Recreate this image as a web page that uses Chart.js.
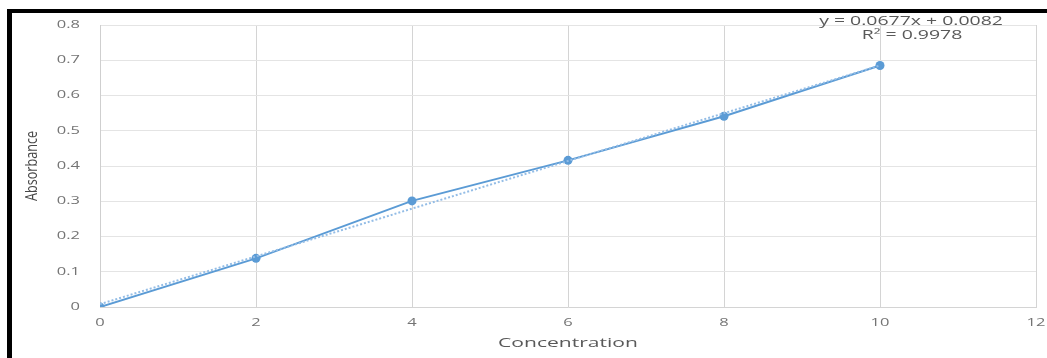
<!DOCTYPE html>
<html>
<head>
<meta charset="utf-8">
<script src="https://cdn.jsdelivr.net/npm/chart.js@4/dist/chart.umd.min.js"></script>
<style>
  html, body { margin: 0; padding: 0; background: #fff; overflow: hidden; }
  #wrap { position: relative; width: 1047px; height: 358px; }
</style>
</head>
<body>
<div id="wrap"><canvas id="c" width="1047" height="358"></canvas></div>
<script>
// Calibration data: absorbance measured at each concentration
const concentration = [0, 2, 4, 6, 8, 10];
const absorbance = [0, 0.138, 0.301, 0.416, 0.541, 0.685];

// Linear trendline as reported
const trendSlope = 0.0677;
const trendIntercept = 0.0082;
const rSquared = 0.9978;

// Axis ticks and their labels
const xTickValues = [0, 2, 4, 6, 8, 10, 12];
const xTickLabels = ['0', '2', '4', '6', '8', '10', '12'];
const yTickValues = [0, 0.1, 0.2, 0.3, 0.4, 0.5, 0.6, 0.7, 0.8];
const yTickLabels = ['0', '0.1', '0.2', '0.3', '0.4', '0.5', '0.6', '0.7', '0.8'];

const xTitle = 'Concentration';
const yTitle = 'Absorbance';

const points = concentration.map((c, i) => ({ x: c, y: absorbance[i] }));
const xFirst = concentration[0];
const xLast = concentration[concentration.length - 1];
const trendPoints = [
  { x: xFirst, y: trendSlope * xFirst + trendIntercept },
  { x: xLast, y: trendSlope * xLast + trendIntercept }
];

const TEXT_FONT = '"Open Sans", "Liberation Sans", sans-serif';

function drawWide(ctx, text, x, y, size, color, sx, align) {
  ctx.save();
  ctx.translate(x, y);
  ctx.scale(sx, 1);
  ctx.font = size + 'px ' + TEXT_FONT;
  ctx.fillStyle = color;
  ctx.textAlign = align;
  ctx.textBaseline = 'middle';
  ctx.fillText(text, 0, 0);
  ctx.restore();
}

// Frame bars along the top and left edges
const framePlugin = {
  id: 'frame',
  beforeDraw(chart) {
    const ctx = chart.ctx;
    ctx.save();
    ctx.fillStyle = '#ffffff';
    ctx.fillRect(0, 0, chart.width, chart.height);
    ctx.fillStyle = '#000000';
    ctx.fillRect(7, 9, chart.width - 7, 4);
    ctx.fillRect(7, 9, 5, chart.height - 9);
    ctx.restore();
  }
};

// Tick labels, axis titles and the trendline equation
const textPlugin = {
  id: 'labels',
  afterDraw(chart) {
    const ctx = chart.ctx;
    const xs = chart.scales.x;
    const ys = chart.scales.y;
    const area = chart.chartArea;

    yTickValues.forEach((v, i) => {
      drawWide(ctx, yTickLabels[i], area.left - 20, ys.getPixelForValue(v), 10, '#747474', 1.65, 'right');
    });
    xTickValues.forEach((v, i) => {
      drawWide(ctx, xTickLabels[i], xs.getPixelForValue(v), area.bottom + 16, 10, '#747474', 1.65, 'center');
    });

    drawWide(ctx, xTitle, (area.left + area.right) / 2, area.bottom + 36, 13, '#595959', 1.62, 'center');

    ctx.save();
    ctx.translate(32, (area.top + area.bottom) / 2);
    ctx.rotate(-Math.PI / 2);
    ctx.scale(0.97, 1.25);
    ctx.font = '13px ' + TEXT_FONT;
    ctx.fillStyle = '#474747';
    ctx.textAlign = 'center';
    ctx.textBaseline = 'middle';
    ctx.fillText(yTitle, 0, 0);
    ctx.restore();

    const ex = xs.getPixelForValue(xLast) + 31;
    const eqText = 'y = ' + trendSlope + 'x + ' + trendIntercept;
    drawWide(ctx, eqText, ex, 21.5, 12, '#595959', 1.62, 'center');
    drawWide(ctx, 'R\u00B2 = ' + rSquared, ex + 1, 35.5, 12, '#595959', 1.62, 'center');
  }
};

new Chart(document.getElementById('c'), {
  type: 'scatter',
  data: {
    datasets: [
      {
        label: 'Absorbance',
        data: points,
        showLine: true,
        borderColor: '#5b9bd5',
        backgroundColor: '#5b9bd5',
        borderWidth: 2,
        pointRadius: 4.5,
        pointBorderWidth: 0,
        pointBackgroundColor: '#5b9bd5',
        order: 1
      },
      {
        label: 'Linear trend',
        data: trendPoints,
        showLine: true,
        borderColor: '#94bde6',
        borderWidth: 2,
        borderDash: [2, 2],
        pointRadius: 0,
        order: 0
      }
    ]
  },
  options: {
    responsive: false,
    animation: false,
    devicePixelRatio: 1,
    layout: { padding: { top: 25, right: 11, bottom: 0, left: 0 } },
    plugins: { legend: { display: false }, tooltip: { enabled: false } },
    scales: {
      x: {
        type: 'linear',
        min: 0,
        max: 12,
        ticks: { stepSize: 2, display: false },
        grid: { color: '#d4d4d4', drawTicks: false },
        border: { color: '#d4d4d4' },
        afterFit(s) { s.height = 51; }
      },
      y: {
        min: 0,
        max: 0.8,
        ticks: { stepSize: 0.1, display: false },
        grid: { color: '#e4e4e4', drawTicks: false },
        border: { color: '#cfcfcf' },
        afterFit(s) { s.width = 100; }
      }
    }
  },
  plugins: [framePlugin, textPlugin]
});
</script>
</body>
</html>
